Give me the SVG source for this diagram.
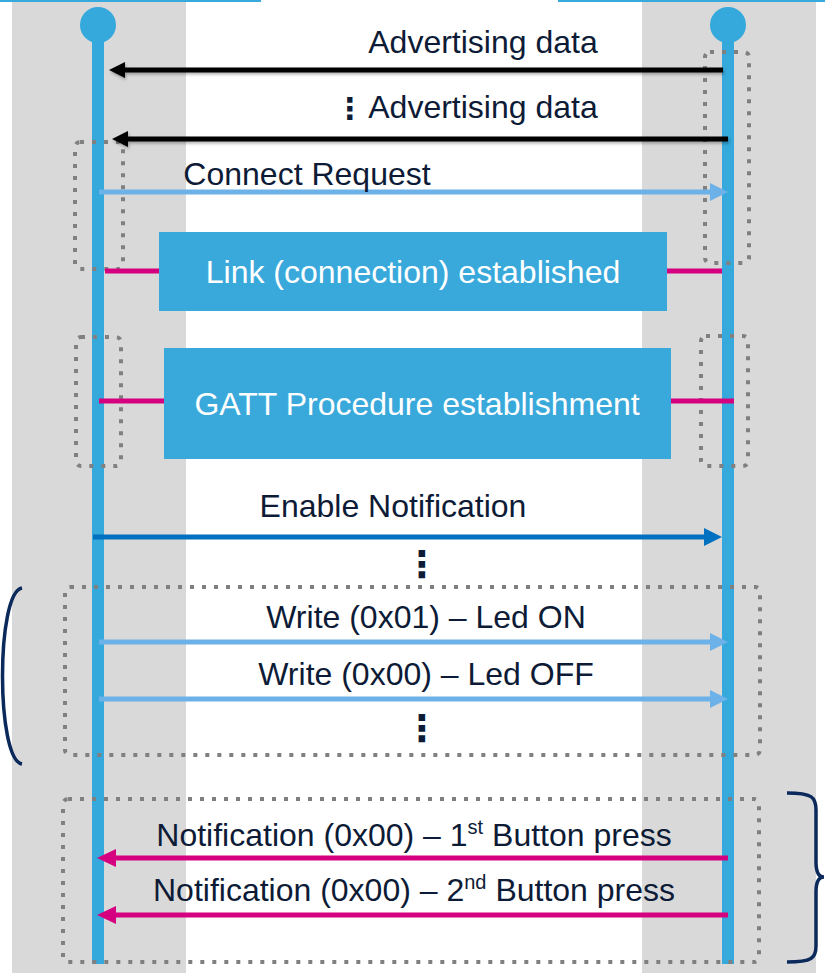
<svg xmlns="http://www.w3.org/2000/svg" width="825" height="973" viewBox="0 0 825 973">
<style>
.band{fill:#d9d9d9}
.life{stroke:#35a8dc;stroke-width:12;fill:none}
.head{fill:#35a8dc}
.dot{fill:none;stroke:#808080;stroke-width:4;stroke-dasharray:4 8}
.lbl{font-family:"Liberation Sans",Arial,"DejaVu Sans",sans-serif;font-size:32px;fill:#0d1b36;text-anchor:middle}
.ell{font-family:"DejaVu Sans",sans-serif;font-size:30px;font-weight:bold;fill:#0d1b36;text-anchor:middle}
.ell2{font-family:"DejaVu Sans",sans-serif;font-size:37px;font-weight:bold;fill:#0d1b36;text-anchor:middle}
.wlbl{font-family:"Liberation Sans",Arial,sans-serif;font-size:32px;fill:#ffffff;text-anchor:middle}
.box{fill:#39a9dc}
.mag{stroke:#d5007f;stroke-width:5;fill:none}
.ablk{stroke:#000;stroke-width:5;fill:none}
.alb{stroke:#6cb2e8;stroke-width:5;fill:none}
.adb{stroke:#0070c0;stroke-width:5;fill:none}
.amg{stroke:#d5007f;stroke-width:5;fill:none}
.brk{stroke:#0b2a5b;stroke-width:3.5;fill:none}
</style>
<defs>
<marker id="mBlk" markerUnits="userSpaceOnUse" markerWidth="16" markerHeight="16" refX="2" refY="8" orient="auto"><path d="M0,0 L16,8 L0,16 z" fill="#000"/></marker>
<marker id="mLb" markerUnits="userSpaceOnUse" markerWidth="18" markerHeight="18" refX="2" refY="9" orient="auto"><path d="M0,0 L18,9 L0,18 z" fill="#6cb2e8"/></marker>
<marker id="mDb" markerUnits="userSpaceOnUse" markerWidth="18" markerHeight="18" refX="2" refY="9" orient="auto"><path d="M0,0 L18,9 L0,18 z" fill="#0070c0"/></marker>
<marker id="mMg" markerUnits="userSpaceOnUse" markerWidth="19" markerHeight="18" refX="2" refY="9" orient="auto"><path d="M0,0 L19,9 L0,18 z" fill="#d5007f"/></marker>
<filter id="sh" filterUnits="userSpaceOnUse" x="0" y="0" width="825" height="973"><feDropShadow dx="1" dy="2" stdDeviation="1.5" flood-color="#000" flood-opacity="0.3"/></filter>
</defs>

<g id="background">
<rect class="band" x="12" y="2" width="174" height="971"/>
<rect class="band" x="642" y="2" width="174" height="971"/>
<rect x="0" y="0" width="261" height="2" fill="#38a9dc"/>
<rect x="558" y="0" width="267" height="2" fill="#38a9dc"/>
</g>

<g id="lifeline-left">
<line class="life" x1="98" y1="25" x2="98" y2="964"/>
<circle class="head" cx="98" cy="25" r="18"/>
</g>
<g id="lifeline-right">
<line class="life" x1="728" y1="25" x2="728" y2="964"/>
<circle class="head" cx="728" cy="25" r="18"/>
</g>

<g id="link-box">
<rect class="box" x="159" y="232" width="508" height="79"/>
<text class="wlbl" x="413" y="283">Link (connection) established</text>
</g>
<g id="gatt-box">
<rect class="box" x="164" y="348" width="507" height="111"/>
<text class="wlbl" x="417" y="415">GATT Procedure establishment</text>
</g>

<g id="groups">
<rect class="dot" x="75" y="142" width="48" height="127" rx="5"/>
<rect class="dot" x="705" y="52" width="44" height="211" rx="5"/>
<rect class="dot" x="76" y="337" width="45" height="129" rx="5"/>
<rect class="dot" x="701" y="336" width="47" height="130" rx="5"/>
<rect class="dot" x="65" y="587" width="695" height="168" rx="5"/>
<rect class="dot" x="63" y="799" width="696" height="163" rx="5"/>
<path class="brk" d="M22,588 C-4,592 -4,760 22,764"/>
<path class="brk" d="M787,793 C812,793 816,797 816,810 L816,862 C816,872 819,877 824,877 C819,877 816,882 816,892 L816,946 C816,958 812,962 787,962"/>
</g>

<g id="connectors">
<line class="mag" x1="105" y1="271" x2="159" y2="271"/>
<line class="mag" x1="667" y1="271" x2="722" y2="271"/>
<line class="mag" x1="99" y1="401" x2="164" y2="401"/>
<line class="mag" x1="671" y1="401" x2="734" y2="401"/>
<line class="ablk" x1="723" y1="70" x2="123" y2="70" marker-end="url(#mBlk)" filter="url(#sh)"/>
<line class="ablk" x1="728" y1="139" x2="126" y2="139" marker-end="url(#mBlk)" filter="url(#sh)"/>
<line class="alb" x1="99" y1="192" x2="712" y2="192" marker-end="url(#mLb)"/>
<line class="adb" x1="93" y1="537" x2="706" y2="537" marker-end="url(#mDb)"/>
<line class="alb" x1="99" y1="642" x2="712" y2="642" marker-end="url(#mLb)"/>
<line class="alb" x1="99" y1="699" x2="712" y2="699" marker-end="url(#mLb)"/>
<line class="amg" x1="728" y1="858" x2="114" y2="858" marker-end="url(#mMg)"/>
<line class="amg" x1="728" y1="915" x2="114" y2="915" marker-end="url(#mMg)"/>
</g>

<g id="labels">
<text class="lbl" x="483" y="53">Advertising data</text>
<text class="lbl" x="483" y="118">Advertising data</text>
<text class="ell" x="350" y="119">⋮</text>
<text class="lbl" x="307" y="185">Connect Request</text>
<text class="lbl" x="393" y="517">Enable Notification</text>
<text class="ell2" x="422" y="577">⋮</text>
<text class="lbl" x="426" y="628">Write (0x01) – Led ON</text>
<text class="lbl" x="426" y="685">Write (0x00) – Led OFF</text>
<text class="ell2" x="422" y="741">⋮</text>
<text class="lbl" x="414" y="846">Notification (0x00) – 1<tspan font-size="20" dy="-12">st</tspan><tspan dy="12"> Button press</tspan></text>
<text class="lbl" x="414" y="901">Notification (0x00) – 2<tspan font-size="20" dy="-12">nd</tspan><tspan dy="12"> Button press</tspan></text>
</g>
</svg>
